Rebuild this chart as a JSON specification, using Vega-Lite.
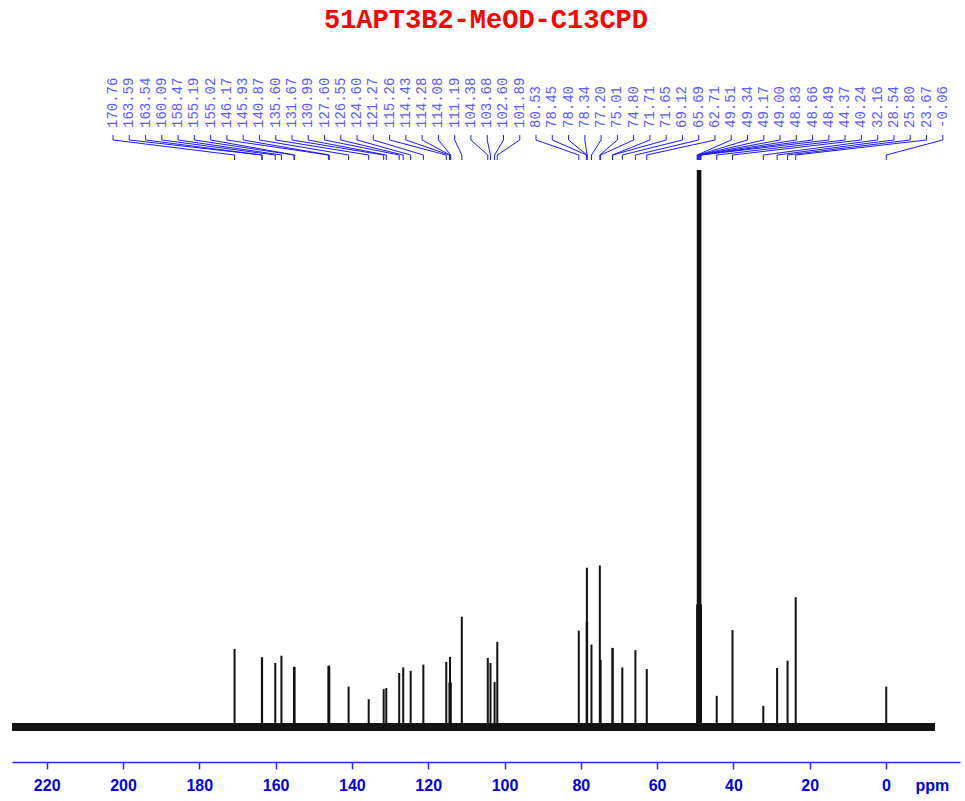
{
  "$schema": "https://vega.github.io/schema/vega-lite/v6.json",
  "width": 948,
  "height": 722,
  "autosize": "none",
  "padding": {"left": 12, "top": 40, "right": 5, "bottom": 39},
  "background": "white",
  "title": {
    "text": "51APT3B2-MeOD-C13CPD",
    "color": "#ff0000",
    "font": "Liberation Mono",
    "fontSize": 27,
    "fontWeight": "bold",
    "anchor": "middle",
    "baseline": "alphabetic",
    "offset": -15
  },
  "config": {"view": {"stroke": null}},
  "datasets": {
    "base": [{"ppm": 229.1, "v": 0}, {"ppm": -12.85, "v": 0}],
    "peaks": [
      {"ppm": 170.76, "h": 14.0, "lab": "170.76", "slot": 202.62},
      {"ppm": 163.59, "h": 12.5, "lab": "163.59", "slot": 198.36},
      {"ppm": 163.54, "h": 12.5, "lab": "163.54", "slot": 194.09},
      {"ppm": 160.09, "h": 11.5, "lab": "160.09", "slot": 189.83},
      {"ppm": 158.47, "h": 12.8, "lab": "158.47", "slot": 185.56},
      {"ppm": 155.19, "h": 10.8, "lab": "155.19", "slot": 181.30},
      {"ppm": 155.02, "h": 10.8, "lab": "155.02", "slot": 177.03},
      {"ppm": 146.17, "h": 11.0, "lab": "146.17", "slot": 172.77},
      {"ppm": 145.93, "h": 11.0, "lab": "145.93", "slot": 168.50},
      {"ppm": 140.87, "h": 7.25, "lab": "140.87", "slot": 164.24},
      {"ppm": 135.60, "h": 5.0, "lab": "135.60", "slot": 159.97},
      {"ppm": 131.67, "h": 6.8, "lab": "131.67", "slot": 155.71},
      {"ppm": 130.99, "h": 7.0, "lab": "130.99", "slot": 151.44},
      {"ppm": 127.60, "h": 9.7, "lab": "127.60", "slot": 147.18},
      {"ppm": 126.55, "h": 10.7, "lab": "126.55", "slot": 142.91},
      {"ppm": 124.60, "h": 10.1, "lab": "124.60", "slot": 138.65},
      {"ppm": 121.27, "h": 11.2, "lab": "121.27", "slot": 134.38},
      {"ppm": 115.26, "h": 11.7, "lab": "115.26", "slot": 130.12},
      {"ppm": 114.43, "h": 8.0, "lab": "114.43", "slot": 125.86},
      {"ppm": 114.28, "h": 12.6, "lab": "114.28", "slot": 121.59},
      {"ppm": 114.08, "h": 8.0, "lab": "114.08", "slot": 117.33},
      {"ppm": 111.19, "h": 19.8, "lab": "111.19", "slot": 113.06},
      {"ppm": 104.38, "h": 12.4, "lab": "104.38", "slot": 108.80},
      {"ppm": 103.68, "h": 11.5, "lab": "103.68", "slot": 104.53},
      {"ppm": 102.60, "h": 8.1, "lab": "102.60", "slot": 100.27},
      {"ppm": 101.89, "h": 15.3, "lab": "101.89", "slot": 96.00},
      {"ppm": 80.53, "h": 17.3, "lab": "80.53", "slot": 91.74},
      {"ppm": 78.45, "h": 18.9, "lab": "78.45", "slot": 87.47},
      {"ppm": 78.40, "h": 28.6, "lab": "78.40", "slot": 83.21},
      {"ppm": 78.34, "h": 18.9, "lab": "78.34", "slot": 78.94},
      {"ppm": 77.20, "h": 14.8, "lab": "77.20", "slot": 74.68},
      {"ppm": 75.01, "h": 29.0, "lab": "75.01", "slot": 70.41},
      {"ppm": 74.80, "h": 12.0, "lab": "74.80", "slot": 66.15},
      {"ppm": 71.71, "h": 14.2, "lab": "71.71", "slot": 61.88},
      {"ppm": 71.65, "h": 14.2, "lab": "71.65", "slot": 57.62},
      {"ppm": 69.12, "h": 10.7, "lab": "69.12", "slot": 53.35},
      {"ppm": 65.69, "h": 13.8, "lab": "65.69", "slot": 49.09},
      {"ppm": 62.71, "h": 10.4, "lab": "62.71", "slot": 44.82},
      {"ppm": 49.51, "h": 22.0, "lab": "49.51", "slot": 40.56},
      {"ppm": 49.34, "h": 100, "lab": "49.34", "slot": 36.30},
      {"ppm": 49.17, "h": 100, "lab": "49.17", "slot": 32.03},
      {"ppm": 49.00, "h": 100, "lab": "49.00", "slot": 27.77},
      {"ppm": 48.83, "h": 100, "lab": "48.83", "slot": 23.50},
      {"ppm": 48.66, "h": 100, "lab": "48.66", "slot": 19.24},
      {"ppm": 48.49, "h": 22.0, "lab": "48.49", "slot": 14.97},
      {"ppm": 44.37, "h": 5.6, "lab": "44.37", "slot": 10.71},
      {"ppm": 40.24, "h": 17.4, "lab": "40.24", "slot": 6.44},
      {"ppm": 32.16, "h": 3.8, "lab": "32.16", "slot": 2.18},
      {"ppm": 28.54, "h": 10.6, "lab": "28.54", "slot": -2.09},
      {"ppm": 25.80, "h": 11.9, "lab": "25.80", "slot": -6.35},
      {"ppm": 23.67, "h": 23.3, "lab": "23.67", "slot": -10.62},
      {"ppm": -0.06, "h": 7.25, "lab": "-0.06", "slot": -14.88}
    ]
  },
  "layer": [
    {
      "data": {"name": "base"},
      "mark": {"type": "line", "color": "#141414", "strokeWidth": 8, "strokeCap": "butt"},
      "encoding": {
        "x": {
          "field": "ppm",
          "type": "quantitative",
          "scale": {"domain": [-19.4, 229.1], "reverse": true, "nice": false, "zero": false, "padding": 0},
          "axis": {
            "title": null,
            "grid": false,
            "values": [220, 210, 200, 190, 180, 170, 160, 150, 140, 130, 120, 110, 100, 90, 80, 70, 60, 50, 40, 30, 20, 10, 0, -10, -12],
            "format": "d",
            "labelExpr": "datum.value == -12 ? 'ppm' : (datum.value % 20 == 0 ? datum.label : '')",
            "tickSize": 7,
            "tickDash": {"condition": {"test": "datum.value % 20 != 0", "value": [4, 20]}, "value": []},
            "tickOpacity": {"condition": {"test": "datum.value == -12", "value": 0}, "value": 1},
            "domainColor": "#2a2aee",
            "domainWidth": 1.5,
            "tickColor": "#2a2aee",
            "tickWidth": 1.5,
            "labelColor": "#0000dd",
            "labelFont": "Liberation Sans",
            "labelFontWeight": "bold",
            "labelFontSize": 16,
            "labelPadding": 8,
            "labelFlush": false,
            "labelOverlap": false
          }
        },
        "y": {
          "field": "v",
          "type": "quantitative",
          "scale": {"domain": [-6.28, 123.34], "nice": false, "zero": false, "padding": 0},
          "axis": null
        }
      }
    },
    {
      "data": {"name": "peaks"},
      "mark": {"type": "bar", "color": "#111111", "width": 2},
      "encoding": {
        "x": {"field": "ppm", "type": "quantitative"},
        "y": {"field": "h", "type": "quantitative", "axis": null}
      }
    },
    {
      "data": {"name": "peaks"},
      "mark": {"type": "rule", "color": "#1a1aff", "strokeWidth": 1},
      "encoding": {
        "x": {"field": "slot", "type": "quantitative"},
        "y": {"datum": 106.28, "type": "quantitative", "axis": null},
        "y2": {"datum": 105.39}
      }
    },
    {
      "data": {"name": "peaks"},
      "mark": {"type": "rule", "color": "#1a1aff", "strokeWidth": 1},
      "encoding": {
        "x": {"field": "slot", "type": "quantitative"},
        "x2": {"field": "ppm"},
        "y": {"datum": 105.39, "type": "quantitative", "axis": null},
        "y2": {"datum": 102.69}
      }
    },
    {
      "data": {"name": "peaks"},
      "mark": {"type": "rule", "color": "#1a1aff", "strokeWidth": 1},
      "encoding": {
        "x": {"field": "ppm", "type": "quantitative"},
        "y": {"datum": 102.69, "type": "quantitative", "axis": null},
        "y2": {"datum": 101.8}
      }
    },
    {
      "data": {"name": "peaks"},
      "mark": {
        "type": "text",
        "angle": 270,
        "align": "left",
        "baseline": "middle",
        "font": "Liberation Mono",
        "fontSize": 14,
        "color": "#5a5aff"
      },
      "encoding": {
        "x": {"field": "slot", "type": "quantitative"},
        "y": {"datum": 107.54, "type": "quantitative", "axis": null},
        "text": {"field": "lab"}
      }
    }
  ]
}
